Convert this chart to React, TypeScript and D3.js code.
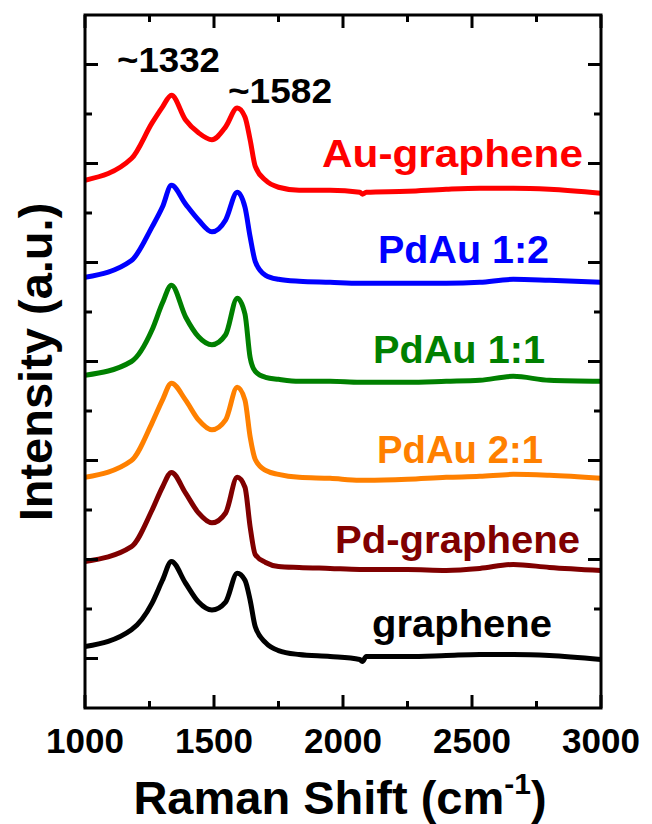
import React from "react";
import * as d3 from "d3";

const shifts = [1000, 1180, 1260, 1300, 1335, 1390, 1440, 1492, 1545, 1590, 1620, 1640, 1660, 1700, 1750, 1830, 1950, 2065, 2075, 2090, 2250, 2400, 2530, 2660, 2800, 3000];

const auGraphene = [533, 555, 591, 607, 619, 594, 581, 574, 587, 606, 597, 574, 547, 533, 526, 523, 523, 521, 519, 521, 522, 524, 525, 525, 524, 520];
const pdau12 = [435, 452, 486, 506, 528, 509, 493, 481, 493, 521, 506, 476, 451, 437, 433, 431, 430, 429, 429, 429, 429, 429, 430, 433, 432, 430];
const pdau11 = [336, 350, 382, 409, 427, 395, 375, 367, 377, 414, 398, 354, 340, 334, 332, 330, 330, 329, 329, 329, 329, 330, 331, 335, 331, 330];
const pdau21 = [233, 250, 288, 311, 328, 311, 291, 281, 291, 324, 311, 274, 251, 240, 236, 233, 232, 230, 230, 230, 231, 233, 234, 236, 235, 232];
const pdGraphene = [148, 163, 200, 223, 238, 217, 197, 187, 197, 233, 223, 183, 155, 147, 143, 142, 141, 140, 140, 140, 140, 139, 141, 145, 142, 139];
const graphene = [62, 79, 106, 129, 148, 126, 107, 99, 107, 136, 129, 109, 82, 66, 58, 54, 52, 49, 47, 52, 52, 53, 54, 54, 53, 49];

const seriesNames = ["Au-graphene", "PdAu 1:2", "PdAu 1:1", "PdAu 2:1", "Pd-graphene", "graphene"];
const seriesValues = [auGraphene, pdau12, pdau11, pdau21, pdGraphene, graphene];
const seriesColors = ["#ff0000", "#0000ff", "#008000", "#ff8000", "#800000", "#000000"];

const xTickMajor = [1000, 1500, 2000, 2500, 3000];
const xTickMinor = [1250, 1750, 2250, 2750];
const yTickMajor = [50, 150, 250, 350, 450, 550, 650];
const yTickMinor = [100, 200, 300, 400, 500, 600];

const peakLabels = ["~1332", "~1582"];

const W = 652, H = 824;
const M = { left: 85, right: 601, top: 15, bottom: 708 };
const FONT = "'Liberation Sans', Arial, Helvetica, sans-serif";

export default function App() {
  const x = d3.scaleLinear().domain([1000, 3000]).range([M.left, M.right]);
  const y = d3.scaleLinear().domain([0, 700]).range([M.bottom, M.top]);
  const line = d3
    .line<[number, number]>()
    .x((d) => x(d[0]))
    .y((d) => y(d[1]))
    .curve(d3.curveMonotoneX);

  // label layout: [start x, baseline y, width]
  const labelPos: [number, number, number][] = [
    [322, 167, 261],
    [378, 263, 171],
    [373, 363, 172],
    [377, 463, 166],
    [335, 553, 245],
    [372, 637, 180],
  ];

  const majorLen = 13, minorLen = 7;

  return (
    <svg width={W} height={H} style={{ position: "absolute", left: 0, top: 0, background: "#fff" }} fontFamily={FONT} fontWeight="bold">
      <defs>
        <clipPath id="plotclip">
          <rect x={M.left} y={M.top} width={M.right - M.left} height={M.bottom - M.top} />
        </clipPath>
      </defs>
      <g clipPath="url(#plotclip)">
        {seriesValues.map((vals, i) => (
          <path
            key={seriesNames[i]}
            d={line(shifts.map((s, j) => [s, vals[j]] as [number, number])) || ""}
            fill="none"
            stroke={seriesColors[i]}
            strokeWidth={5}
            strokeLinejoin="round"
            strokeLinecap="round"
          />
        ))}
      </g>
      <g stroke="#000" strokeWidth={3}>
        {xTickMajor.map((t) => (
          <g key={"xM" + t}>
            <line x1={x(t)} x2={x(t)} y1={M.bottom} y2={M.bottom - majorLen} />
            <line x1={x(t)} x2={x(t)} y1={M.top} y2={M.top + majorLen} />
          </g>
        ))}
        {xTickMinor.map((t) => (
          <g key={"xm" + t}>
            <line x1={x(t)} x2={x(t)} y1={M.bottom} y2={M.bottom - minorLen} />
            <line x1={x(t)} x2={x(t)} y1={M.top} y2={M.top + minorLen} />
          </g>
        ))}
        {yTickMajor.map((t) => (
          <g key={"yM" + t}>
            <line x1={M.left} x2={M.left + majorLen} y1={y(t)} y2={y(t)} />
            <line x1={M.right} x2={M.right - majorLen} y1={y(t)} y2={y(t)} />
          </g>
        ))}
        {yTickMinor.map((t) => (
          <g key={"ym" + t}>
            <line x1={M.left} x2={M.left + minorLen} y1={y(t)} y2={y(t)} />
            <line x1={M.right} x2={M.right - minorLen} y1={y(t)} y2={y(t)} />
          </g>
        ))}
      </g>
      <rect x={M.left} y={M.top} width={M.right - M.left} height={M.bottom - M.top} fill="none" stroke="#000" strokeWidth={3} />
      {xTickMajor.map((t) => (
        <text key={"xl" + t} x={x(t)} y={753} textAnchor="middle" fontSize={35} fill="#000">
          {t}
        </text>
      ))}
      {seriesNames.map((n, i) => (
        <text
          key={"lab" + n}
          x={labelPos[i][0]}
          y={labelPos[i][1]}
          fontSize={38}
          fill={seriesColors[i]}
          textLength={labelPos[i][2]}
          lengthAdjust="spacingAndGlyphs"
        >
          {n}
        </text>
      ))}
      <text x={117} y={72} fontSize={35} fill="#000" textLength={103} lengthAdjust="spacingAndGlyphs">
        {peakLabels[0]}
      </text>
      <text x={228} y={103} fontSize={35} fill="#000" textLength={104} lengthAdjust="spacingAndGlyphs">
        {peakLabels[1]}
      </text>
      <text x={340} y={814} textAnchor="middle" fontSize={47} fill="#000">
        Raman Shift (cm
        <tspan fontSize={30} dy={-20}>-1</tspan>
        <tspan dy={20}>)</tspan>
      </text>
      <text transform={`translate(52, 362) rotate(-90)`} textAnchor="middle" fontSize={47} fill="#000">
        Intensity (a.u.)
      </text>
    </svg>
  );
}
